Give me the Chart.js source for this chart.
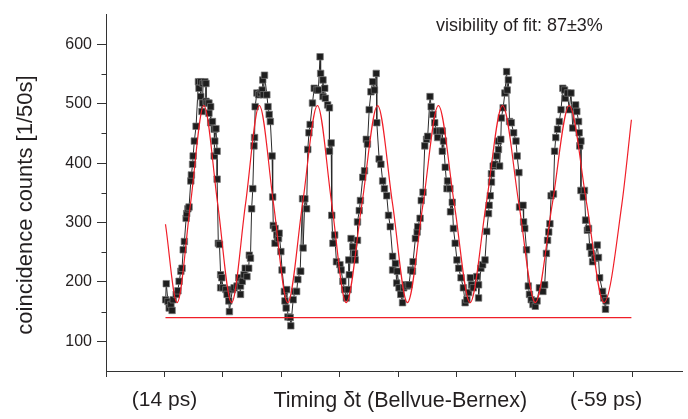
<!DOCTYPE html>
<html>
<head>
<meta charset="utf-8">
<script src="https://cdn.jsdelivr.net/npm/chart.js@4/dist/chart.umd.min.js"></script>
<style>
  html, body { margin: 0; padding: 0; background: #fff; }
  #wrap { width: 688px; height: 419px; }
</style>
</head>
<body>
<div id="wrap"><canvas id="fringes" width="688" height="419"></canvas></div>
<script>
// measured coincidences (x = delay position, ticks every 10 units)
const delayPos = [
  10.2, 10.3, 10.6, 10.8, 11.1, 11.3, 11.5, 12.0, 12.3, 12.5, 12.8, 13.0, 13.2, 13.4, 13.7, 13.8, 14.0, 14.2,
  14.5, 14.6, 14.8, 14.9, 15.1, 15.4, 15.8, 15.9, 16.2, 16.2, 16.4, 16.5, 16.6, 16.9, 17.1, 17.1, 17.3, 17.6,
  17.6, 17.9, 17.9, 18.2, 18.5, 18.5, 18.6, 18.8, 19.0, 19.0, 19.2, 19.4, 19.6, 19.6, 19.8, 20.0, 20.5, 20.7,
  21.0, 21.1, 21.6, 21.9, 22.4, 22.7,
  23.0, 23.0, 23.3, 23.6, 23.8, 24.1, 24.4, 24.5, 24.7, 24.9, 25.1, 25.3, 25.4, 25.5, 25.8, 26.1, 26.4, 26.7,
  26.8, 26.9, 27.1, 27.5, 27.7, 27.9, 28.1, 28.4, 28.5, 28.6, 28.9, 28.9, 29.2, 29.5, 29.6, 29.9, 30.1, 30.5,
  30.6, 30.8, 30.9, 31.1, 31.5, 31.6, 32.0, 32.3, 32.6, 32.8, 33.2, 33.3, 33.6, 33.7, 34.0, 34.3, 34.5, 34.7,
  34.9, 35.3, 35.6, 36.0,
  36.3, 36.6, 36.7, 37.1, 37.1, 37.4, 37.5, 37.9, 38.2, 38.2, 38.5, 38.6, 38.8, 39.1, 39.4, 40.0, 40.2, 40.5,
  40.8, 41.1, 41.4, 41.5, 41.6, 41.9, 42.2, 42.5, 42.6, 43.0, 43.0, 43.3, 43.5, 43.9, 44.2, 44.5, 44.7, 45.0,
  45.3, 45.6, 45.9, 46.2, 46.3, 46.7, 47.0, 47.3, 47.6, 48.0, 48.3, 48.6, 49.0, 49.0, 49.5, 49.7,
  49.8, 50.1, 50.4, 50.7, 50.9, 51.2, 51.5, 51.8, 52.1, 52.4, 52.5, 52.9, 53.2, 53.3, 53.7, 53.9, 54.2, 54.5,
  54.8, 55.0, 55.4, 55.6, 55.9, 56.2, 56.5, 56.7, 57.1, 57.5, 57.5, 57.7, 58.0, 58.3, 58.4, 58.8, 58.9, 59.2,
  59.4, 59.7, 60.0, 60.3, 60.7, 61.1, 61.4, 61.7, 62.0, 62.3, 62.5, 62.8, 63.4,
  63.7, 63.7, 64.1, 64.4, 64.8, 65.1, 65.4, 65.5, 65.7, 65.9, 65.9, 66.2, 66.5, 66.8, 67.1, 67.1, 67.3, 67.5,
  67.6, 67.9, 68.2, 68.5, 68.6, 68.8, 69.0, 69.3, 69.7, 70.1, 70.3, 70.6, 70.7, 71.3, 71.4, 71.6, 71.9, 72.2,
  72.4, 72.7, 73.0, 73.4, 73.7, 74.1, 74.7, 75.0, 75.3, 75.5, 75.7, 75.9, 76.1, 76.5, 76.7, 76.9,
  77.2, 77.5, 77.8, 78.1, 78.4, 78.5, 78.9, 79.2, 79.5, 79.8, 80.1, 80.3, 80.5, 80.8, 80.9, 81.0, 81.2, 81.2,
  81.6, 81.8, 82.0, 82.3, 82.5, 82.7, 83.0, 83.2, 83.6, 84.0, 84.2, 84.4, 84.9, 85.1, 85.4, 85.5
];
const counts = [
  170, 197, 167, 156, 162, 152, 170, 179, 185, 201, 218, 223, 254, 268, 307, 315, 323, 326,
  370, 380, 398, 412, 437, 462, 537, 526, 537, 512, 487, 501, 534, 537, 534, 504, 501, 501,
  484, 495, 468, 470, 457, 412, 437, 458, 420, 373, 265, 263, 212, 190, 207, 190, 187, 179,
  168, 150, 187, 190, 193, 207,
  179, 193, 201, 212, 223, 209, 223, 245, 240, 323, 357, 429, 443, 495, 518, 515, 518, 523,
  540, 515, 548, 515, 495, 482, 470, 412, 343, 295, 290, 265, 279, 273, 282, 251, 220, 184,
  168, 156, 187, 141, 140, 126, 170, 184, 184, 204, 218, 218, 340, 257, 340, 323, 423, 451,
  465, 501, 526, 523,
  523, 579, 551, 540, 512, 526, 509, 498, 493, 420, 434, 312, 265, 279, 234, 229, 220, 201,
  187, 173, 187, 237, 212, 273, 259, 248, 237, 270, 301, 320, 337, 376, 387, 440, 432, 490,
  520, 537, 523, 551, 468, 407, 398, 370, 357, 345, 312, 293, 243, 220, 231, 198,
  218, 190, 179, 165, 190, 195, 193, 195, 220, 218, 234, 273, 284, 293, 307, 337, 351, 429,
  440, 445, 512, 495, 482, 468, 454, 443, 454, 454, 420, 437, 393, 357, 370, 357, 318, 334,
  290, 265, 237, 223, 207, 190, 165, 170, 182, 207, 195, 190, 209,
  195, 173, 223, 229, 237, 285, 315, 329, 345, 368, 382, 395, 398, 412, 423, 437, 395, 440,
  476, 493, 518, 554, 523, 540, 470, 468, 451, 437, 412, 384, 326, 329, 301, 290, 254, 193,
  179, 170, 162, 159, 168, 190, 184, 195, 248, 270, 284, 298, 345, 348, 420, 443,
  457, 470, 490, 526, 523, 509, 518, 490, 518, 459, 493, 498, 487, 470, 451, 429, 437, 354,
  343, 354, 304, 287, 290, 259, 248, 234, 240, 262, 241, 207, 184, 173, 154, 168
];

// fitted fringe, read at its extremes and mid crossings
const fitPos = [10.17, 12.15, 14.44, 16.73, 19.1, 21.47, 23.85, 26.22, 28.65, 31.07, 33.6, 36.15, 38.6, 41.07,
  43.75, 46.44, 49.0, 51.53, 54.2, 56.83, 59.55, 62.25, 65.0, 67.8, 70.6, 73.39, 76.3, 79.2, 82.2, 85.14, 88.2, 89.83];
const fitCounts = [297, 165, 331, 497, 331, 165, 331, 497, 331, 165, 331, 497, 331, 165,
  331, 497, 331, 165, 331, 497, 331, 165, 331, 497, 331, 165, 331, 497, 331, 165, 331, 473];

// background (accidental) level
const bgPos = [10.17, 89.83];
const bgCounts = [140, 140];

const yTicks = [100, 200, 300, 400, 500, 600];
const yMinor = [150, 250, 350, 450, 550];
const xTicks = [0, 10, 20, 30, 40, 50, 60, 70, 80, 85.5, 90];
const xLabels = { 10: '(14 ps)', 85.5: '(-59 ps)' };
const noteText = 'visibility of fit: 87\u00b13%';
const notePos = { x: 56.4, y: 631 };

const FONT = '"Liberation Sans", Arial, Helvetica, sans-serif';
const INK = '#231f20';
const RED = '#f01e28';

const toPts = (xs, ys) => xs.map((x, i) => ({ x, y: ys[i] }));

const extras = {
  id: 'extras',
  afterDraw(chart) {
    const { ctx, chartArea, scales } = chart;
    ctx.save();
    // short minor ticks on the count axis
    ctx.strokeStyle = '#333';
    ctx.lineWidth = 1;
    yMinor.forEach(v => {
      const y = Math.round(scales.y.getPixelForValue(v)) + 0.5;
      ctx.beginPath();
      ctx.moveTo(chartArea.left - 4.5, y);
      ctx.lineTo(chartArea.left, y);
      ctx.stroke();
    });
    ctx.fillStyle = INK;
    ctx.font = '18px ' + FONT;
    ctx.textAlign = 'left';
    ctx.textBaseline = 'middle';
    ctx.fillText(noteText, scales.x.getPixelForValue(notePos.x), scales.y.getPixelForValue(notePos.y));
    ctx.restore();
  }
};

new Chart(document.getElementById('fringes'), {
  type: 'scatter',
  data: {
    datasets: [
      {
        label: 'fit',
        data: toPts(fitPos, fitCounts),
        showLine: true,
        borderColor: RED,
        borderWidth: 1.2,
        pointRadius: 0,
        cubicInterpolationMode: 'monotone',
        order: 0
      },
      {
        label: 'accidentals',
        data: toPts(bgPos, bgCounts),
        showLine: true,
        borderColor: RED,
        borderWidth: 1.3,
        pointRadius: 0,
        order: 0
      },
      {
        label: 'counts',
        data: toPts(delayPos, counts),
        showLine: true,
        borderColor: '#2a2a2a',
        borderWidth: 1,
        pointStyle: 'rect',
        pointRadius: 4.6,
        pointBackgroundColor: '#1e1e1e',
        pointBorderColor: '#777',
        pointBorderWidth: 0.7,
        order: 1
      }
    ]
  },
  options: {
    responsive: false,
    animation: false,
    layout: { padding: { top: 12, left: 0, right: 0, bottom: 0 } },
    plugins: { legend: { display: false }, tooltip: { enabled: false } },
    scales: {
      x: {
        type: 'linear',
        min: 0,
        max: 98.6,
        afterBuildTicks: s => { s.ticks = xTicks.map(v => ({ value: v })); },
        afterFit: s => { s.height = 48; },
        border: { color: '#333', width: 1 },
        grid: {
          drawOnChartArea: false,
          tickLength: 6,
          tickColor: c => (c.tick && c.tick.value === 85.5) ? 'rgba(0,0,0,0)' : '#333'
        },
        ticks: {
          autoSkip: false,
          maxRotation: 0,
          padding: 11,
          color: INK,
          font: { family: FONT, size: 21 },
          callback: v => xLabels[v] || ''
        },
        title: {
          display: true,
          // leading spaces push the title slightly right of centre, as in the original
          text: '  Timing \u03b4t (Bellvue-Bernex)',
          color: INK,
          font: { family: FONT, size: 21.5 },
          padding: { top: 0, bottom: 5 }
        }
      },
      y: {
        min: 50,
        max: 650,
        afterBuildTicks: s => { s.ticks = yTicks.map(v => ({ value: v })); },
        afterFit: s => { s.width = 106; },
        border: { color: '#333', width: 1 },
        grid: { drawOnChartArea: false, tickLength: 9, tickColor: '#333' },
        ticks: {
          padding: 5,
          color: INK,
          font: { family: FONT, size: 16 }
        },
        title: {
          display: true,
          // trailing spaces nudge the rotated title down a little, as in the original
          text: 'coincidence counts [1/50s]    ',
          color: INK,
          font: { family: FONT, size: 22 },
          padding: { top: 13, bottom: 0 }
        }
      }
    }
  },
  plugins: [extras]
});
</script>
</body>
</html>
